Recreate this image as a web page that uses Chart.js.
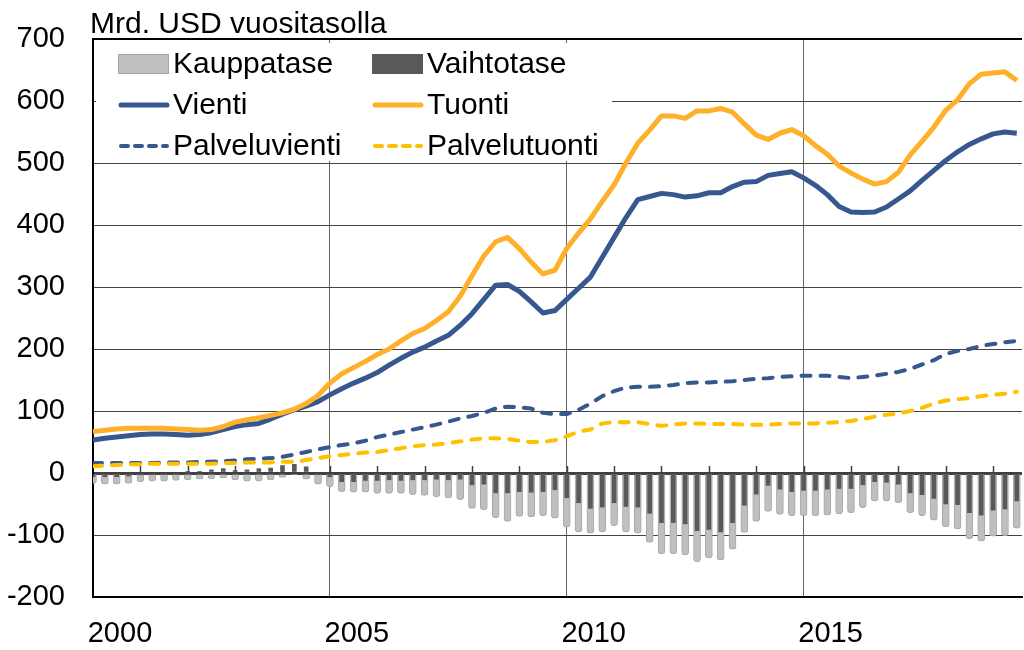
<!DOCTYPE html>
<html>
<head>
<meta charset="utf-8">
<script src="https://cdn.jsdelivr.net/npm/chart.js@4.4.1/dist/chart.umd.min.js"></script>
<style>
    body { margin: 0; background: #fff; }
    #wrap { width: 1024px; height: 650px; }
</style>
</head>
<body>
<div id="wrap"><canvas id="chart" width="1024" height="650"></canvas></div>
<script>
// Quarterly data, 2000Q1 ... 2019Q3 (Mrd. USD, annualised)
const startYear = 2000;
const tickYears = [2000, 2005, 2010, 2015];

const vienti = [
    53, 56, 58, 60, 62, 63, 63, 62, 61, 62, 65, 70, 75, 78, 80, 87, 95, 102, 108, 115,
    126, 136, 145, 153, 162, 174, 185, 195, 203, 213, 222, 238, 257, 280, 303, 304, 293, 276, 258, 262,
    280, 298, 316, 348, 380, 412, 441, 446, 451, 449, 445, 447, 452, 452, 462, 469, 470, 480, 483, 486,
    476, 464, 449, 430, 421, 420, 421, 429, 442, 455, 472, 488, 504, 518, 530, 539, 547, 550, 548
];
const tuonti = [
    67, 69, 71, 72, 72, 72, 72, 71, 70, 69, 70, 75, 82, 86, 89, 93, 97, 103, 112, 125,
    145, 160, 170, 180, 191, 200, 213, 225, 233, 246, 260, 285, 318, 350, 373, 380, 362, 340, 321, 327,
    362, 387, 410, 438, 465, 500, 532, 553, 576, 576, 572, 584, 584, 588, 582, 563, 545, 538, 548, 554,
    544, 528, 514, 495, 484, 474, 466, 470, 485, 513, 535, 558, 585, 602, 628, 643, 645, 647, 633
];
const palveluvienti = [
    16, 16, 16, 16, 16, 16, 17, 17, 17, 18, 18, 19, 20, 22, 23, 24, 26, 30, 34, 38,
    42, 45, 48, 52, 58, 62, 66, 70, 74, 78, 83, 88, 92, 97, 104, 107, 106, 104, 97, 95,
    95, 102, 112, 124, 132, 138, 139, 139, 140, 142, 145, 146, 146, 147, 148, 150, 152, 153, 155, 156,
    157, 157, 157, 155, 153, 155, 157, 160, 163, 168, 175, 182, 192, 197, 200, 205, 208, 211, 213
];
const palvelutuonti = [
    11, 12, 13, 14, 14, 15, 15, 15, 15, 15, 15, 16, 16, 17, 17, 17, 18, 18, 21, 24,
    27, 29, 31, 33, 34, 37, 40, 43, 45, 46, 48, 51, 54, 56, 56, 55, 52, 50, 50, 53,
    59, 67, 70, 80, 82, 82, 82, 79, 76, 78, 80, 80, 79, 79, 79, 78, 78, 78, 79, 80,
    80, 80, 81, 82, 84, 87, 91, 94, 96, 100, 105, 112, 117, 119, 121, 124, 126, 128, 131
];
const kauppatase = [
    -17, -18, -18, -17, -14, -13, -13, -12, -11, -10, -9, -8, -11, -13, -13, -11, -7, -3, -10, -18,
    -22, -30, -31, -31, -33, -33, -33, -35, -36, -38, -40, -43, -57, -59, -72, -78, -70, -71, -69, -73,
    -87, -95, -97, -95, -85, -95, -97, -112, -130, -130, -132, -143, -137, -140, -123, -96, -78, -62, -67, -69,
    -69, -69, -68, -66, -64, -56, -45, -45, -48, -64, -69, -76, -87, -90, -106, -110, -102, -101, -89
];
const vaihtotase = [
    -6, -6, -6, -5, -3, -2, -2, -1, 1, 2, 5, 7, 4, 5, 7, 8, 12, 14, 10, -2,
    -6, -14, -14, -12, -12, -11, -12, -11, -11, -10, -11, -10, -19, -18, -32, -32, -30, -31, -30, -27,
    -40, -48, -57, -55, -48, -54, -55, -65, -80, -80, -82, -93, -91, -95, -80, -52, -34, -20, -26, -30,
    -28, -28, -26, -25, -25, -19, -14, -15, -18, -32, -35, -41, -50, -51, -64, -68, -60, -58, -45
];

const BLUE = '#36588e';
const ORANGE = '#ffb02a';
const YELLOW = '#ffc000';
const LIGHT = '#bfbfbf';
const DARK = '#595959';
const FONT = "'Liberation Sans', Arial, sans-serif";

function toPoints(values) {
    return values.map((v, i) => ({ x: startYear + i / 4, y: v }));
}

// legend drawn inside the plot on a white box, two columns
const legendItems = [
    { label: 'Kauppatase', kind: 'box', color: LIGHT, border: '#a6a6a6' },
    { label: 'Vaihtotase', kind: 'box', color: DARK },
    { label: 'Vienti', kind: 'line', color: BLUE },
    { label: 'Tuonti', kind: 'line', color: ORANGE },
    { label: 'Palveluvienti', kind: 'dash', color: BLUE },
    { label: 'Palvelutuonti', kind: 'dash', color: YELLOW }
];

const insideLegend = {
    id: 'insideLegend',
    beforeDatasetsDraw(chart) {
        const ctx = chart.ctx;
        const area = chart.chartArea;
        const y0 = chart.scales.y.getPixelForValue(0);
        ctx.save();

        // small year ticks on the zero line
        ctx.strokeStyle = '#404040';
        ctx.lineWidth = 1.5;
        for (let yr = startYear + 1; yr <= 2019; yr++) {
            const px = Math.round(chart.scales.x.getPixelForValue(yr)) + 0.5;
            ctx.beginPath();
            ctx.moveTo(px, y0);
            ctx.lineTo(px, y0 - 7);
            ctx.stroke();
        }

        ctx.fillStyle = '#fff';
        ctx.fillRect(area.left + 3, area.top + 4, 516, 118);

        ctx.font = '30px ' + FONT;
        ctx.textBaseline = 'middle';
        legendItems.forEach((item, i) => {
            const col = i % 2;
            const row = Math.floor(i / 2);
            const sx = area.left + 25 + col * 254;
            const cy = area.top + 25 + row * 41;
            if (item.kind === 'box') {
                ctx.fillStyle = item.color;
                ctx.fillRect(sx, cy - 10, 51, 20);
                if (item.border) {
                    ctx.strokeStyle = item.border;
                    ctx.lineWidth = 1;
                    ctx.strokeRect(sx + 0.5, cy - 9.5, 50, 19);
                }
            } else {
                ctx.strokeStyle = item.color;
                ctx.lineCap = 'round';
                ctx.lineWidth = item.kind === 'line' ? 5 : 4;
                ctx.setLineDash(item.kind === 'dash' ? [7, 7] : []);
                ctx.beginPath();
                ctx.moveTo(sx + 3, cy);
                ctx.lineTo(sx + 49, cy);
                ctx.stroke();
                ctx.setLineDash([]);
            }
            ctx.fillStyle = '#000';
            ctx.fillText(item.label, sx + 55, cy + 1);
        });

        // unit title above the plot
        ctx.textBaseline = 'alphabetic';
        ctx.fillText('Mrd. USD vuositasolla', area.left - 3, area.top - 6);
        ctx.restore();
    }
};

function lineSet(label, values, color, dashed) {
    return {
        type: 'line',
        label: label,
        data: toPoints(values),
        borderColor: color,
        borderWidth: dashed ? 4 : 5,
        borderDash: dashed ? [9, 10] : [],
        borderCapStyle: dashed ? 'round' : 'butt',
        borderJoinStyle: 'round',
        pointRadius: 0,
        tension: 0,
        fill: false
    };
}

const ctx = document.getElementById('chart').getContext('2d');
new Chart(ctx, {
    type: 'bar',
    data: {
        datasets: [
            lineSet('Tuonti', tuonti, ORANGE, false),
            lineSet('Vienti', vienti, BLUE, false),
            lineSet('Palvelutuonti', palvelutuonti, YELLOW, true),
            lineSet('Palveluvienti', palveluvienti, BLUE, true),
            {
                label: 'Vaihtotase',
                data: toPoints(vaihtotase),
                backgroundColor: DARK,
                barThickness: 4,
                grouped: false
            },
            {
                label: 'Kauppatase',
                data: toPoints(kauppatase),
                backgroundColor: LIGHT,
                borderColor: '#a8a8a8',
                borderWidth: 1,
                borderRadius: 3,
                barThickness: 7,
                grouped: false
            }
        ]
    },
    options: {
        responsive: false,
        animation: false,
        devicePixelRatio: 1,
        layout: { padding: { top: 39, right: 2, left: 0, bottom: 0 } },
        plugins: {
            legend: { display: false },
            tooltip: { enabled: false }
        },
        scales: {
            x: {
                type: 'linear',
                min: 2000,
                max: 2019.61,
                offset: false,
                grid: { color: '#666', lineWidth: 1, drawTicks: false, offset: false },
                border: { display: true, color: '#000', width: 2 },
                afterBuildTicks: scale => {
                    scale.ticks = tickYears.map(v => ({ value: v }));
                },
                afterFit: scale => {
                    scale.height = 53;
                    scale.paddingLeft = 0;
                    scale.paddingRight = 0;
                },
                ticks: {
                    font: { family: FONT, size: 29 },
                    color: '#000',
                    padding: 20,
                    labelOffset: 27,
                    maxRotation: 0,
                    autoSkip: false,
                    callback: v => String(v)
                }
            },
            y: {
                min: -200,
                max: 700,
                grid: {
                    drawTicks: false,
                    color: c => c.tick.value === 0 ? '#404040' : (c.tick.value === 700 ? '#000' : '#444'),
                    lineWidth: c => c.tick.value === 0 ? 3 : (c.tick.value === 700 ? 2 : 1)
                },
                border: { display: true, color: '#000', width: 2 },
                afterFit: scale => {
                    scale.width = 93;
                    scale.paddingTop = 0;
                    scale.paddingBottom = 0;
                },
                ticks: {
                    stepSize: 100,
                    font: { family: FONT, size: 29 },
                    color: '#000',
                    padding: 28
                }
            }
        }
    },
    plugins: [insideLegend]
});
</script>
</body>
</html>
